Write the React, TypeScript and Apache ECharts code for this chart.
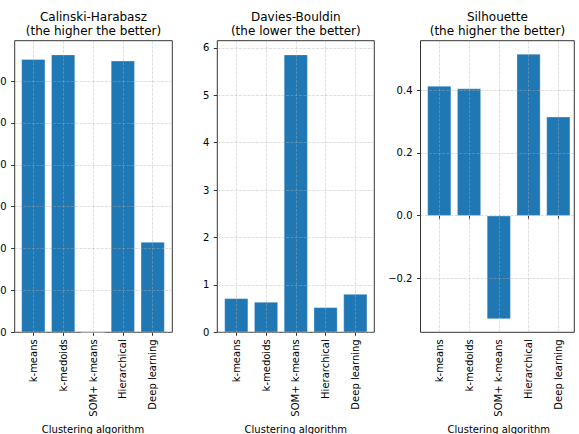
import React, { useEffect, useRef } from "react";
import * as echarts from "echarts";

// Clustering algorithms compared on three internal validity indices
const categories = ["k-means", "k-medoids", "SOM+ k-means", "Hierarchical", "Deep learning"];

const calinskiHarabasz = [3263, 3317, 0, 3243, 1078];
const daviesBouldin = [0.717, 0.64, 5.86, 0.527, 0.808];
const silhouette = [0.413, 0.405, -0.329, 0.515, 0.315];

const chTicks = [0, 500, 1000, 1500, 2000, 2500, 3000];
const dbTicks = [0, 1, 2, 3, 4, 5, 6];
const silTicks = [-0.2, 0, 0.2, 0.4];

const titles = [
  "Calinski-Harabasz\n(the higher the better)",
  "Davies-Bouldin\n(the lower the better)",
  "Silhouette\n(the higher the better)",
];
const xAxisTitle = "Clustering algorithm";

const FONT = "DejaVu Sans";
const BAR = "#1f77b4";
const GRID_LINE = {
  color: "rgba(176,176,176,0.5)",
  width: 0.8,
  type: [3, 1.3] as number[],
};

// Per-panel frame (axes box) and the band area the five bars occupy
const frames = [
  { left: 14.7, width: 157.6 },
  { left: 217.3, width: 157 },
  { left: 420.5, width: 153.8 },
];
const bands = [
  { left: 18.4, width: 149.2 },
  { left: 221.4, width: 148.8 },
  { left: 424.4, width: 148.8 },
];
const TOP = 40.7;
const HEIGHT = 291.6;

// Value range with a 5% margin, keeping zero as a hard edge
function extentOf(values: number[]): [number, number] {
  const lo = Math.min(0, ...values);
  const hi = Math.max(0, ...values);
  const span = hi - lo;
  return [lo < 0 ? lo - 0.05 * span : 0, hi > 0 ? hi + 0.05 * span : 0];
}

const panels = [
  { data: calinskiHarabasz, ticks: chTicks, fmt: (v: number) => String(v) },
  { data: daviesBouldin, ticks: dbTicks, fmt: (v: number) => String(v) },
  {
    data: silhouette,
    ticks: silTicks,
    fmt: (v: number) => v.toFixed(1).replace("-", "\u2212"),
  },
];

export default function App() {
  const ref = useRef<HTMLDivElement>(null);

  useEffect(() => {
    if (!ref.current) return;
    const chart = echarts.init(ref.current, null, { renderer: "svg" });

    const grid: any[] = [];
    const xAxis: any[] = [];
    const yAxis: any[] = [];
    const series: any[] = [];
    const graphic: any[] = [];

    panels.forEach((p, i) => {
      const [min, max] = extentOf(p.data);
      const f = frames[i];
      const b = bands[i];
      const frameIdx = 2 * i;
      const barIdx = 2 * i + 1;

      grid.push({
        left: f.left,
        top: TOP,
        width: f.width,
        height: HEIGHT,
        show: true,
        borderColor: "#000",
        borderWidth: 0.8,
        backgroundColor: "transparent",
        containLabel: false,
        outerBoundsMode: "none",
      });
      grid.push({
        left: b.left,
        top: TOP,
        width: b.width,
        height: HEIGHT,
        containLabel: false,
        outerBoundsMode: "none",
      });

      xAxis.push({ type: "value", gridIndex: frameIdx, min: 0, max: 1, show: false });
      yAxis.push({
        type: "value",
        gridIndex: frameIdx,
        min,
        max,
        axisLine: { show: false },
        splitLine: { show: false },
        axisTick: {
          show: true,
          length: 3.5,
          customValues: p.ticks,
          lineStyle: { color: "#000", width: 0.8 },
        },
        axisLabel: {
          customValues: p.ticks,
          formatter: p.fmt,
          fontFamily: FONT,
          fontSize: 10,
          color: "#000",
          margin: 8,
        },
      });

      xAxis.push({
        type: "category",
        gridIndex: barIdx,
        data: categories,
        axisLine: { show: false },
        splitLine: { show: false },
        axisTick: {
          show: true,
          alignWithLabel: true,
          length: 3.5,
          lineStyle: { color: "#000", width: 0.8 },
        },
        axisLabel: {
          rotate: 90,
          interval: 0,
          fontFamily: FONT,
          fontSize: 10,
          color: "#000",
          margin: 7,
        },
      });
      yAxis.push({ type: "value", gridIndex: barIdx, min, max, show: false });

      series.push({
        type: "bar",
        xAxisIndex: barIdx,
        yAxisIndex: barIdx,
        data: p.data,
        barWidth: "80%",
        itemStyle: {
          color: BAR,
          borderColor: "rgba(255,255,255,0.5)",
          borderWidth: 0.6,
        },
        markLine: {
          silent: true,
          symbol: ["none", "none"],
          label: { show: false },
          lineStyle: GRID_LINE,
          data: categories.map((c) => ({ xAxis: c })),
        },
      });

      // Horizontal grid lines spanning the whole frame, drawn over the bars
      series.push({
        type: "line",
        xAxisIndex: frameIdx,
        yAxisIndex: frameIdx,
        data: [],
        z: 3,
        markLine: {
          silent: true,
          symbol: ["none", "none"],
          label: { show: false },
          lineStyle: GRID_LINE,
          data: p.ticks.map((t) => ({ yAxis: t })),
        },
      });

      graphic.push({
        type: "text",
        x: f.left + f.width / 2,
        y: 10,
        style: {
          text: titles[i],
          fontFamily: FONT,
          fontSize: 12,
          lineHeight: 14,
          fill: "#000",
          align: "center",
          verticalAlign: "top",
        },
      });
      graphic.push({
        type: "text",
        x: b.left + b.width / 2,
        y: 424,
        style: {
          text: xAxisTitle,
          fontFamily: FONT,
          fontSize: 10,
          fill: "#000",
          align: "center",
          verticalAlign: "top",
        },
      });
    });

    chart.setOption({
      animation: false,
      backgroundColor: "#fff",
      grid,
      xAxis,
      yAxis,
      series,
      graphic,
    });

    return () => chart.dispose();
  }, []);

  return (
    <div
      ref={ref}
      style={{ position: "absolute", left: 0, top: 0, width: 579, height: 434 }}
    />
  );
}
